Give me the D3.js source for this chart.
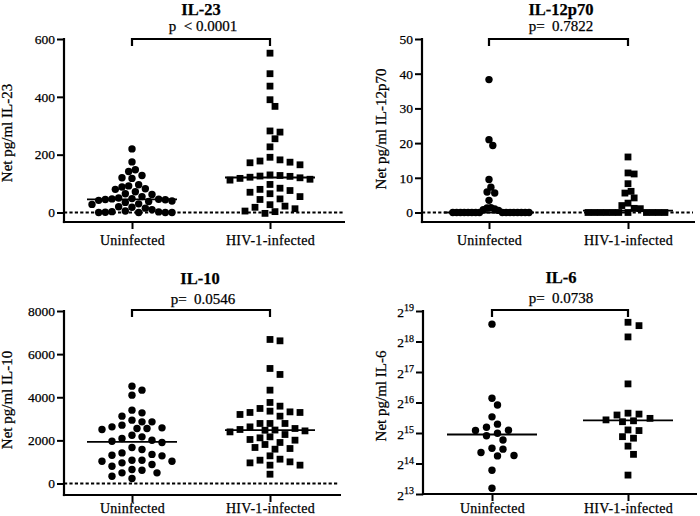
<!DOCTYPE html>
<html>
<head>
<meta charset="utf-8">
<script src="https://cdn.jsdelivr.net/npm/d3@7/dist/d3.min.js"></script>
<style>
  html, body { margin: 0; padding: 0; background: #fff; }
  svg { display: block; }
  text { font-family: "Liberation Serif", "Times New Roman", serif; fill: #000; stroke: #000; stroke-width: 0.25px; }
</style>
</head>
<body>
<svg id="chart" width="700" height="516"></svg>
<script>
// ---------- data ----------
const categories = ["Uninfected", "HIV-1-infected"];

const il23Uninf = [220, 175, 148, 142, 128, 120, 118, 96, 92, 88, 82, 80, 72, 65, 62, 55, 50, 48, 47, 46,
                   45, 44, 42, 40, 38, 35, 30, 28, 20, 18, 15, 10, 5, 3, 2, 1, 0, 0, 0, 0];
const il23HIV = [551, 480, 437, 390, 367, 282, 278, 255, 227, 191, 182, 178, 174, 172, 165, 130, 128, 126, 125, 122,
                 120, 118, 115, 112, 97, 84, 80, 76, 70, 65, 55, 47, 45, 27, 22, 18, 13, 5, 3, -3];

const il12Uninf = [38.3, 21, 19.3, 9.5, 7.3, 5.9, 5.6, 3.5, 1.4, 1.3, 1.0, 0.8, 0.6,
                   0, 0, 0, 0, 0, 0, 0, 0, 0, 0, 0, 0, 0, 0, 0, 0];
const il12HIV = [16, 11.4, 11.1, 8.3, 6.1, 5.6, 4.2, 2.7, 2.0, 1.2, 1.1, 0, 0, 0, 0, 0, 0, 0, 0, 0, 0, 0];

const il10Uninf = [4515, 4330, 4097, 3401, 3277, 3123, 2937, 2858, 2858, 2705, 2627, 2582, 2551, 2551, 2505,
                   2241, 2164, 2087, 2009, 1960, 1902, 1670, 1577, 1420, 1350, 1310, 1283, 1081, 1081, 1035,
                   1035, 957, 881, 803, 648, 617, 493, 493, 339, 232];
const il10HIV = [6680, 6617, 5335, 5057, 4329, 3758, 3587, 3480, 3355, 3322, 3294, 3294, 3201, 3123, 2784,
                 2784, 2784, 2626, 2551, 2505, 2480, 2470, 2440, 2394, 2272, 2164, 2118, 2041, 2009, 1902,
                 1809, 1670, 1623, 1592, 1283, 1128, 1081, 1004, 957, 851, 851, 431];

const il6Uninf = [389000, 72200, 62000, 47310, 40060, 37380, 34880, 34640, 32540, 30790, 27940, 23170,
                  22700, 21030, 19620, 19480, 14070, 9350];
const il6HIV = [405700, 375900, 290900, 100030, 51420, 50360, 49320, 45700, 44150, 43240, 42350, 35120,
                34640, 30150, 29120, 24320, 20170, 12590];

const il23Ticks = [0, 200, 400, 600];
const il12Ticks = [0, 10, 20, 30, 40, 50];
const il10Ticks = [0, 2000, 4000, 6000, 8000];
const il6TickExponents = [13, 14, 15, 16, 17, 18, 19];

const panelTitles = ["IL-23", "IL-12p70", "IL-10", "IL-6"];
const pTexts = ["p  < 0.0001", "p=  0.7822", "p=  0.0546", "p=  0.0738"];
const yTitles = ["Net pg/ml IL-23", "Net pg/ml IL-12p70", "Net pg/ml IL-10", "Net pg/ml IL-6"];

// ---------- layout ----------
const svg = d3.select("#chart");
svg.append("rect").attr("width", 700).attr("height", 516).attr("fill", "#fff");

const panels = [
  { title: panelTitles[0], p: pTexts[0], yTitle: yTitles[0], data: [il23Uninf, il23HIV],
    y: d3.scaleLinear().domain([0, 600]).range([212.5, 39]), ticks: il23Ticks, fmt: d3.format("d"),
    axisX: 64, axisBottom: 222, xs: [132, 270], xEnd: 345, titleX: 201, titleY: 15, pX: 203, pY: 31,
    brTop: 39, yTitleX: 12, yTitleY: 133, dashed: true, catY: 245 },
  { title: panelTitles[1], p: pTexts[1], yTitle: yTitles[1], data: [il12Uninf, il12HIV],
    y: d3.scaleLinear().domain([0, 50]).range([212.5, 39]), ticks: il12Ticks, fmt: d3.format("d"),
    axisX: 422, axisBottom: 222, xs: [489, 628], xEnd: 695, titleX: 561, titleY: 15, pX: 561, pY: 31,
    brTop: 39, yTitleX: 386, yTitleY: 129, dashed: true, catY: 245 },
  { title: panelTitles[2], p: pTexts[2], yTitle: yTitles[2], data: [il10Uninf, il10HIV],
    y: d3.scaleLinear().domain([0, 8000]).range([483.5, 311]), ticks: il10Ticks, fmt: d3.format("d"),
    axisX: 64, axisBottom: 495, xs: [132, 270], xEnd: 341, titleX: 200, titleY: 284, pX: 203, pY: 304,
    brTop: 310, yTitleX: 12, yTitleY: 400, dashed: true, catY: 513 },
  { title: panelTitles[3], p: pTexts[3], yTitle: yTitles[3], data: [il6Uninf, il6HIV],
    y: d3.scaleLog().base(2).domain([Math.pow(2, 13), Math.pow(2, 19)]).range([494, 311]),
    ticks: il6TickExponents.map(e => Math.pow(2, e)), log: true,
    axisX: 423, axisBottom: 494, xs: [492, 628], xEnd: 697, titleX: 561, titleY: 283, pX: 561, pY: 303,
    brTop: 310, yTitleX: 386, yTitleY: 396, dashed: false, catY: 513 }
];

// GraphPad-like scatter layout: grid of half-steps, collision avoidance, then fit to max width
function swarm(values, y, maxHalf) {
  const step = 5.5, minD = 8.5;
  const pts = values.map(v => ({ v, py: y(v) })).sort((a, b) => a.py - b.py);
  const placed = [];
  pts.forEach(p => {
    for (let k = 0; k < 200; k++) {
      const off = (k === 0) ? 0 : (k % 2 === 1 ? 1 : -1) * Math.ceil(k / 2) * step;
      const ok = placed.every(q => {
        const dx = q.dx - off, dy = q.py - p.py;
        return dx * dx + dy * dy >= minD * minD;
      });
      if (ok) { p.dx = off; break; }
    }
    placed.push(p);
  });
  const m = d3.max(placed, p => Math.abs(p.dx)) || 1;
  const f = Math.min(1, maxHalf / m);
  placed.forEach(p => p.dx *= f);
  return placed;
}

const serif = '"Liberation Serif", "Times New Roman", serif';

panels.forEach(P => {
  const g = svg.append("g");
  const x = d3.scalePoint().domain(categories).range(P.xs);

  // title & p value
  g.append("text").attr("x", P.titleX).attr("y", P.titleY).attr("text-anchor", "middle")
    .style("font-size", "16.5px").style("font-weight", "bold").text(P.title);
  g.append("text").attr("x", P.pX).attr("y", P.pY).attr("text-anchor", "middle")
    .style("font-size", "15px").style("white-space", "pre").text(P.p);

  // bracket
  const bx0 = x(categories[0]), bx1 = x(categories[1]);
  g.append("path").attr("d", `M${bx0},${P.brTop + 7}V${P.brTop}H${bx1}V${P.brTop + 7}`)
    .attr("fill", "none").attr("stroke", "#000").attr("stroke-width", 2.2);

  // dashed zero line
  if (P.dashed) {
    g.append("line").attr("x1", P.axisX).attr("x2", P.xEnd - 2)
      .attr("y1", P.y(0)).attr("y2", P.y(0))
      .attr("stroke", "#000").attr("stroke-width", 1.8).attr("stroke-dasharray", "3.2,2.2");
  }

  // y axis
  const yAxis = d3.axisLeft(P.y).tickValues(P.ticks).tickSize(7).tickSizeOuter(0).tickPadding(2);
  if (!P.log) yAxis.tickFormat(P.fmt); else yAxis.tickFormat("");
  const ya = g.append("g").attr("transform", `translate(${P.axisX},0)`).call(yAxis);
  ya.select(".domain").remove();
  ya.selectAll(".tick line").attr("stroke", "#000").attr("stroke-width", 2);
  ya.selectAll(".tick text").style("font-size", "13.5px").style("font-family", serif);
  if (P.log) {
    ya.selectAll(".tick").each(function (d) {
      const t = d3.select(this).select("text").attr("x", -9).attr("dy", "0.38em").text(null);
      t.append("tspan").text("2");
      t.append("tspan").attr("dy", "-0.55em").style("font-size", "10px").text(String(Math.round(Math.log2(d))));
      t.attr("text-anchor", "end");
    });
  }
  g.append("line").attr("x1", P.axisX).attr("x2", P.axisX)
    .attr("y1", P.y.range()[1] - 1).attr("y2", P.axisBottom + 1.1)
    .attr("stroke", "#000").attr("stroke-width", 2.2);

  // x axis
  g.append("line").attr("x1", P.axisX - 1.1).attr("x2", P.xEnd)
    .attr("y1", P.axisBottom).attr("y2", P.axisBottom)
    .attr("stroke", "#000").attr("stroke-width", 2.2);
  const xAxis = d3.axisBottom(x).tickSize(7).tickSizeOuter(0);
  const xa = g.append("g").attr("transform", `translate(0,${P.axisBottom})`).call(xAxis);
  xa.select(".domain").remove();
  xa.selectAll(".tick line").attr("stroke", "#000").attr("stroke-width", 2);
  xa.selectAll(".tick text").attr("y", P.catY - P.axisBottom).attr("dy", 0)
    .style("font-size", "14px").style("letter-spacing", "0.3px").style("font-family", serif);

  // y title
  g.append("text").attr("transform", `translate(${P.yTitleX},${P.yTitleY}) rotate(-90)`)
    .attr("text-anchor", "middle").style("font-size", "15px").text(P.yTitle);

  // points
  P.data.forEach((vals, i) => {
    const cx = x(categories[i]);
    const pts = swarm(vals, P.y, 40);
    if (i === 0) {
      g.selectAll(null).data(pts).enter().append("circle")
        .attr("cx", d => cx + d.dx).attr("cy", d => d.py).attr("r", 3.7).attr("fill", "#000");
    } else {
      g.selectAll(null).data(pts).enter().append("rect")
        .attr("x", d => cx + d.dx - 3.4).attr("y", d => d.py - 3.4)
        .attr("width", 6.8).attr("height", 6.8).attr("fill", "#000");
    }
    const med = d3.median(vals);
    g.append("line").attr("x1", cx - 45).attr("x2", cx + 45)
      .attr("y1", P.y(med)).attr("y2", P.y(med))
      .attr("stroke", "#000").attr("stroke-width", 1.8);
  });
});
</script>
</body>
</html>
